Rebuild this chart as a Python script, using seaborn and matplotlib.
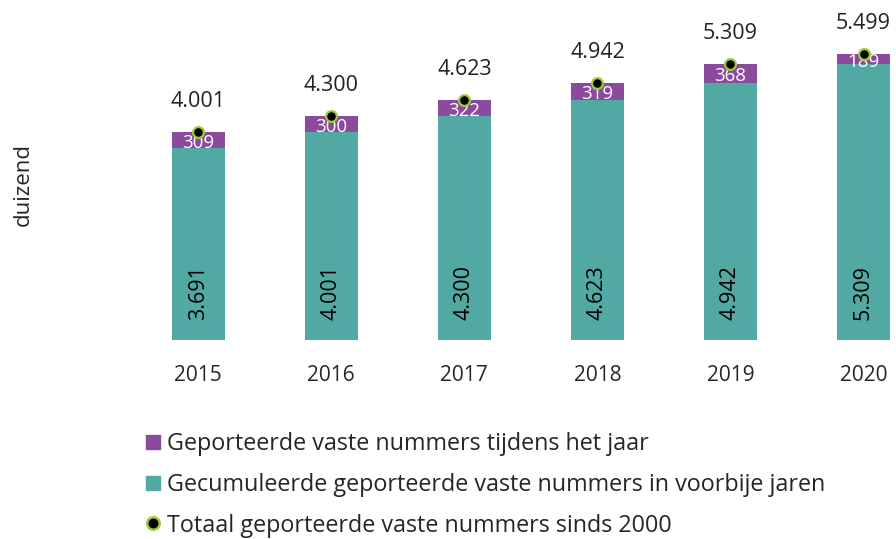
import matplotlib
matplotlib.use('Agg')
import matplotlib.pyplot as plt
from matplotlib.lines import Line2D
import numpy as np
import pandas as pd
import seaborn as sns

# data (duizend)
years = ['2015', '2016', '2017', '2018', '2019', '2020']
previous = [3691, 4001, 4300, 4623, 4942, 5309]   # gecumuleerd voorbije jaren
during = [309, 300, 322, 319, 368, 189]           # geporteerd tijdens het jaar
totals = [4001, 4300, 4623, 4942, 5309, 5499]     # totaal sinds 2000

purple = '#8B4A9B'
teal = '#52A9A4'
ring = '#9BCB3C'

sns.set_style('white')
plt.rcParams['font.family'] = ['Open Sans', 'DejaVu Sans']

def nl(v):
    return '{:,}'.format(v).replace(',', '.')

df = pd.DataFrame({'year': years, 'previous': previous, 'during': during, 'total': totals})

fig = plt.figure(figsize=(8.96, 5.39), dpi=100)
ax = fig.add_axes([0.147, 0.369, 0.891, 0.579])

sns.barplot(data=df, x='year', y='total', color=purple, width=0.4, saturation=1, linewidth=0, ax=ax)
sns.barplot(data=df, x='year', y='previous', color=teal, width=0.4, saturation=1, linewidth=0, ax=ax)
pos = np.arange(len(years))
ax.scatter(pos, totals, s=60, color='black', edgecolor=ring, linewidth=1.6, zorder=5, clip_on=False)

for i in range(len(years)):
    ax.annotate(nl(totals[i]), (pos[i], totals[i]), xytext=(0, 22), textcoords='offset points',
                ha='center', va='center', fontsize=15.5, color='#222222', annotation_clip=False)
    ax.annotate(str(during[i]), (pos[i], previous[i] + during[i] / 2), xytext=(0, -2), textcoords='offset points',
                ha='center', va='center', fontsize=13.5, color='white')
    ax.annotate(nl(previous[i]), (pos[i], 0), xytext=(0, 34), textcoords='offset points',
                ha='center', va='center', fontsize=15.5, rotation=90, color='black')

ax.set_xlim(-0.5, 5.5)
ax.set_ylim(0, 6000)
ax.set_xlabel('')
ax.set_ylabel('')
ax.set_yticks([])
ax.tick_params(axis='x', labelsize=15, length=0, pad=18)
sns.despine(ax=ax, left=True, bottom=True)

fig.text(0.026, 0.657, 'duizend', rotation=90, fontsize=16, ha='center', va='center')

handles = [Line2D([], [], marker='s', color='none', markerfacecolor=purple, markeredgecolor=purple, markersize=10),
           Line2D([], [], marker='s', color='none', markerfacecolor=teal, markeredgecolor=teal, markersize=10),
           Line2D([], [], marker='o', color='none', markerfacecolor='black', markeredgecolor=ring, markeredgewidth=1.8, markersize=9)]
labels = ['Geporteerde vaste nummers tijdens het jaar',
          'Gecumuleerde geporteerde vaste nummers in voorbije jaren',
          'Totaal geporteerde vaste nummers sinds 2000']
fig.legend(handles, labels, loc='upper left', bbox_to_anchor=(0.152, 0.216), frameon=False,
           fontsize=16.8, handlelength=0.6, handletextpad=0.3, labelspacing=0.72, borderaxespad=0)

fig.savefig('out.png', dpi=100)
